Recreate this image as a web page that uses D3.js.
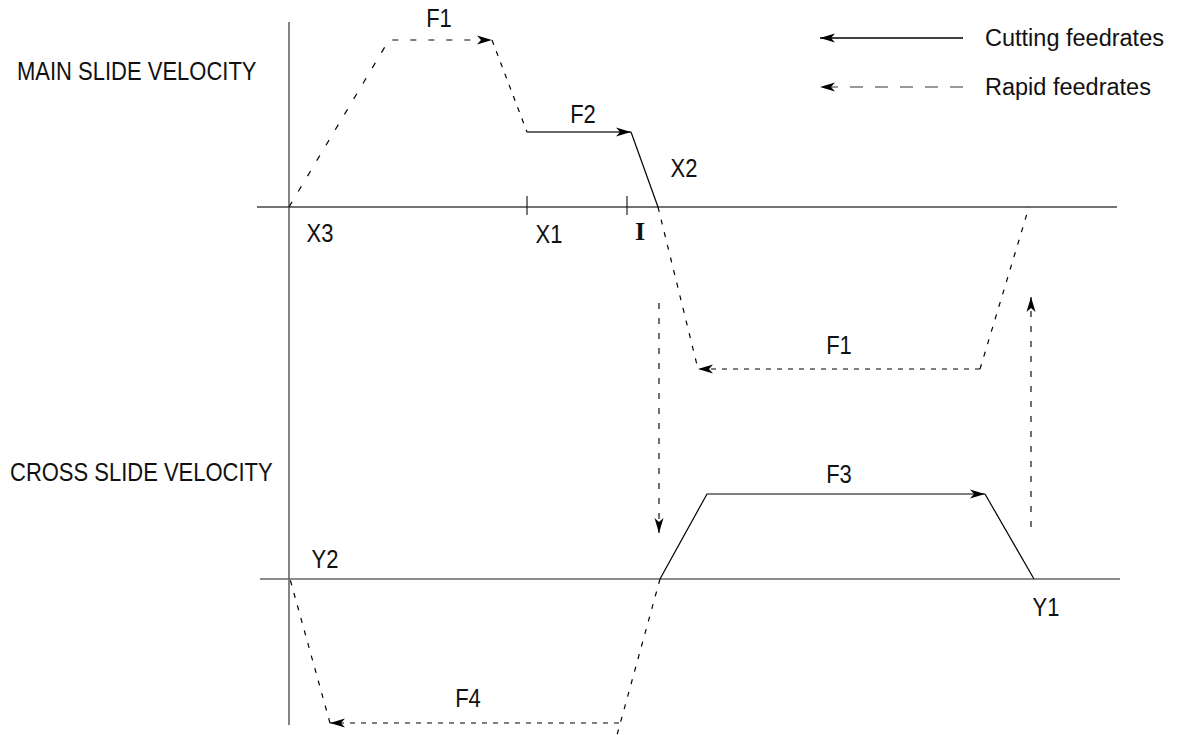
<!DOCTYPE html>
<html>
<head>
<meta charset="utf-8">
<script src="https://cdn.jsdelivr.net/npm/d3@7"></script>
<style>
  body { margin: 0; background: #fff; }
  text { font-family: "Liberation Sans", Arial, sans-serif; fill: #111; }
</style>
</head>
<body>
<svg id="chart" width="1181" height="735"></svg>
<script>
// time axis: t units, velocity in arbitrary units (0 = axis)
// main slide
var mainRapidOut = [[0, 0], [10, 16.7], [20.3, 16.7]];
var mainRapidDecel = [[20.3, 16.7], [23.8, 7.5]];
var mainCutF2 = [[23.8, 7.5], [34.2, 7.5]];
var mainCutX2 = [[34.2, 7.5], [36.9, 0]];
var mainRapidDown = [[36.9, 0], [40.9, -16.2]];
var mainRapidBack = [[69.1, -16.2], [40.9, -16.2]];
var mainRapidUp = [[69.1, -16.2], [74.0, 0]];
var mainTicks = [23.8, 33.8];

// cross slide
var crossCutF3 = [[37.1, 0], [41.8, 8.5], [69.6, 8.5]];
var crossCutDown = [[69.6, 8.5], [74.5, 0]];
var crossRapidDown = [[37.1, 0], [32.8, -15.6]];
var crossRapidBack = [[33.0, -14.4], [4.1, -14.4]];
var crossRapidUp = [[4.1, -14.4], [0.1, 0]];

// transfers between the two graphs: [t, from v, to v]
var transferDown = [37.0, -9.6, 4.6];
var transferUp = [74.2, 5.2, -9.0];

// labels: [text, t, v, panel]
var labels = [
  ['F1', 15.0, 19.0, 'main'],
  ['F2', 29.4, 9.4, 'main'],
  ['X2', 39.5, 4.0, 'main'],
  ['X3', 3.1, -2.5, 'main'],
  ['X1', 26.0, -2.6, 'main'],
  ['F1', 55.0, -13.7, 'main'],
  ['F3', 55.0, 10.6, 'cross'],
  ['Y2', 3.6, 2.1, 'cross'],
  ['Y1', 75.7, -2.7, 'cross'],
  ['F4', 17.9, -11.8, 'cross']
];

var titles = [['MAIN SLIDE VELOCITY', 17, 70], ['CROSS SLIDE VELOCITY', 10, 471]];
var legendItems = ['Cutting feedrates', 'Rapid feedrates'];

var svg = d3.select('#chart');

var x = d3.scaleLinear().domain([0, 83]).range([289, 1119]);
var yMain = d3.scaleLinear().domain([-20, 20]).range([407, 7]);
var yCross = d3.scaleLinear().domain([-20, 20]).range([779, 379]);

var defs = svg.append('defs');
defs.append('marker')
  .attr('id', 'arrow')
  .attr('viewBox', '-16 -6 17 12')
  .attr('refX', 0).attr('refY', 0)
  .attr('markerWidth', 17).attr('markerHeight', 12)
  .attr('markerUnits', 'userSpaceOnUse')
  .attr('orient', 'auto')
  .append('path')
  .attr('d', 'M0,0 L-15,-4.5 L-11,0 L-15,4.5 Z')
  .attr('fill', '#000');

var lineMain = d3.line().x((d) => x(d[0])).y((d) => yMain(d[1]));
var lineCross = d3.line().x((d) => x(d[0])).y((d) => yCross(d[1]));

// axes
svg.append('line')
  .attr('x1', x(0)).attr('x2', x(0))
  .attr('y1', yMain(18.5)).attr('y2', yCross(-14.6))
  .attr('stroke', '#666').attr('stroke-width', 1.6);
svg.append('line')
  .attr('x1', x(-3.2)).attr('x2', x(82.8))
  .attr('y1', yMain(0)).attr('y2', yMain(0))
  .attr('stroke', '#444').attr('stroke-width', 1.4);
svg.append('line')
  .attr('x1', x(-2.9)).attr('x2', x(83.1))
  .attr('y1', yCross(0)).attr('y2', yCross(0))
  .attr('stroke', '#666').attr('stroke-width', 1.6);

svg.selectAll('.tick')
  .data(mainTicks)
  .enter().append('line')
  .attr('class', 'tick')
  .attr('x1', (d) => x(d)).attr('x2', (d) => x(d))
  .attr('y1', yMain(1.1)).attr('y2', yMain(-0.8))
  .attr('stroke', '#222').attr('stroke-width', 1.2);

function draw(pts, line, opts) {
  var p = svg.append('path')
    .attr('d', line(pts))
    .attr('fill', 'none')
    .attr('stroke', opts.color || '#000')
    .attr('stroke-width', opts.width || 1.2);
  if (opts.dash) p.attr('stroke-dasharray', opts.dash);
  if (opts.arrow) p.attr('marker-end', 'url(#arrow)');
  return p;
}

// main slide
draw(mainRapidOut, lineMain, {dash: '6,12', arrow: true});
draw(mainRapidDecel, lineMain, {dash: '5,7'});
draw(mainCutF2, lineMain, {arrow: true, color: '#333', width: 1.6});
draw(mainCutX2, lineMain, {});
draw(mainRapidDown, lineMain, {dash: '5,8'});
draw(mainRapidBack, lineMain, {dash: '5,6', arrow: true});
draw(mainRapidUp, lineMain, {dash: '5,8'});

// cross slide
draw(crossCutF3, lineCross, {arrow: true});
draw(crossCutDown, lineCross, {});
draw(crossRapidDown, lineCross, {dash: '5,8'});
draw(crossRapidBack, lineCross, {dash: '5,6', arrow: true});
draw(crossRapidUp, lineCross, {dash: '5,8'});

// transfers
svg.append('line')
  .attr('x1', x(transferDown[0])).attr('x2', x(transferDown[0]))
  .attr('y1', yMain(transferDown[1])).attr('y2', yCross(transferDown[2]))
  .attr('stroke', '#333').attr('stroke-width', 1.4)
  .attr('stroke-dasharray', '6,9')
  .attr('marker-end', 'url(#arrow)');
svg.append('line')
  .attr('x1', x(transferUp[0])).attr('x2', x(transferUp[0]))
  .attr('y1', yCross(transferUp[1])).attr('y2', yMain(transferUp[2]))
  .attr('stroke', '#333').attr('stroke-width', 1.4)
  .attr('stroke-dasharray', '6,9')
  .attr('marker-end', 'url(#arrow)');

// labels (narrowed sans to match the condensed lettering)
svg.selectAll('.lbl')
  .data(labels)
  .enter().append('text')
  .attr('class', 'lbl')
  .attr('transform', (d) => 'translate(' + x(d[1]) + ',' + (d[3] === 'main' ? yMain(d[2]) : yCross(d[2])) + ') scale(0.83,1)')
  .attr('text-anchor', 'middle')
  .attr('dy', '0.36em')
  .attr('font-size', 26.5)
  .text((d) => d[0]);

svg.append('text')
  .attr('x', x(35.1)).attr('y', yMain(-2.4))
  .attr('text-anchor', 'middle')
  .attr('dy', '0.34em')
  .attr('font-size', 26)
  .style('font-family', '"Liberation Serif", serif')
  .attr('font-weight', 'bold')
  .text('I');

svg.selectAll('.title')
  .data(titles)
  .enter().append('text')
  .attr('class', 'title')
  .attr('transform', (d) => 'translate(' + d[1] + ',' + d[2] + ') scale(0.83,1)')
  .attr('dy', '0.36em')
  .attr('font-size', 26.5)
  .text((d) => d[0]);

// legend
var legend = svg.append('g').attr('transform', 'translate(820,38)');
legend.selectAll('line')
  .data(legendItems)
  .enter().append('line')
  .attr('x1', 143).attr('x2', 0)
  .attr('y1', (d, i) => i * 49).attr('y2', (d, i) => i * 49)
  .attr('stroke', (d, i) => (i ? '#777' : '#000'))
  .attr('stroke-width', 1.3)
  .attr('stroke-dasharray', (d, i) => (i ? '13,12' : null))
  .attr('marker-end', 'url(#arrow)');
legend.selectAll('text')
  .data(legendItems)
  .enter().append('text')
  .attr('x', 165)
  .attr('y', (d, i) => i * 49)
  .attr('dy', '0.36em')
  .attr('font-size', 23.5)
  .text((d) => d);
</script>
</body>
</html>
